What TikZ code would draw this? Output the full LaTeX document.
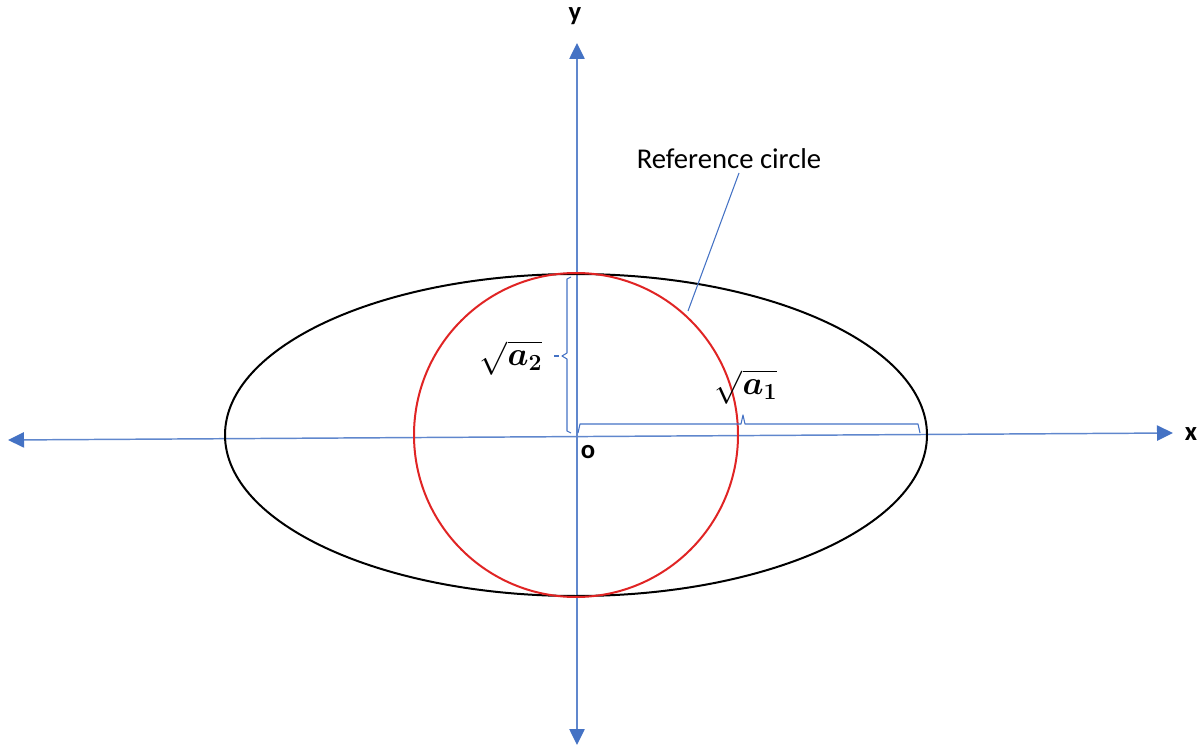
\documentclass[tikz,border=0pt]{standalone}
\usepackage{amsmath,bm}
\usepackage{fontspec}
\newfontfamily\calib{Carlito}
\usetikzlibrary{arrows.meta}
\definecolor{axblue}{HTML}{4472C4}
\definecolor{circred}{HTML}{E02424}
\tikzset{
  axis/.style={draw=axblue!85, line width=1.1pt, {Triangle[length=12pt,width=11.5pt,color=axblue,fill=axblue]}-{Triangle[length=12pt,width=11.5pt,color=axblue,fill=axblue]}},
  brace/.style={draw=axblue, line width=0.8pt, line join=round},
  axlabel/.style={font=\calib\bfseries\fontsize{20}{22}\selectfont, inner sep=0pt},
  mathlabel/.style={font=\fontsize{23}{26}\selectfont, inner sep=0pt},
  leader/.style={draw=axblue, line width=0.8pt}
}
\begin{document}
\begin{tikzpicture}[x=0.75pt,y=-0.75pt]
\useasboundingbox (0,0) rectangle (1200,745);
% centre
\coordinate (O) at (576,435);
% axes ends
\coordinate (xl) at (8,440);
\coordinate (xr) at (1173,433);
\coordinate (yt) at (577,43);
\coordinate (yb) at (577,745);
\draw[axis] (xl) -- (xr);
\draw[axis] (yb) -- (yt);
% ellipse and circle
\draw[line width=1.5pt, black] (O) ellipse [x radius=351, y radius=161];
\draw[line width=1.5pt, circred] (O) circle [radius=162];
% braces
\draw[brace] (571,277) -- (567,279) -- (567,353) -- (562,356) -- (567,359) -- (567,431) -- (571,433);
\draw[brace] (554,356) -- (559,356);
\draw[brace] (578,433) -- (580,424) -- (741,424) -- (743,415) -- (745,424) -- (918,424) -- (920,433);
% labels
\node[axlabel] (ylab) at (575,16) {y};
\node[axlabel] (xlab) at (1191,434) {x};
\node[axlabel] (olab) at (588,452) {o};
\node[mathlabel] (a2) at (511,358) {$\sqrt{\bm{a}_{\bm{2}}}$};
\node[mathlabel] (a1) at (746,387) {$\sqrt{\bm{a}_{\bm{1}}}$};
\node[font=\calib\fontsize{21.5}{24}\selectfont, inner sep=0pt] (ref) at (729,159) {Reference circle};
\coordinate (refend) at (688,311);
\draw[leader] (739,173) -- (refend);
\end{tikzpicture}
\end{document}
